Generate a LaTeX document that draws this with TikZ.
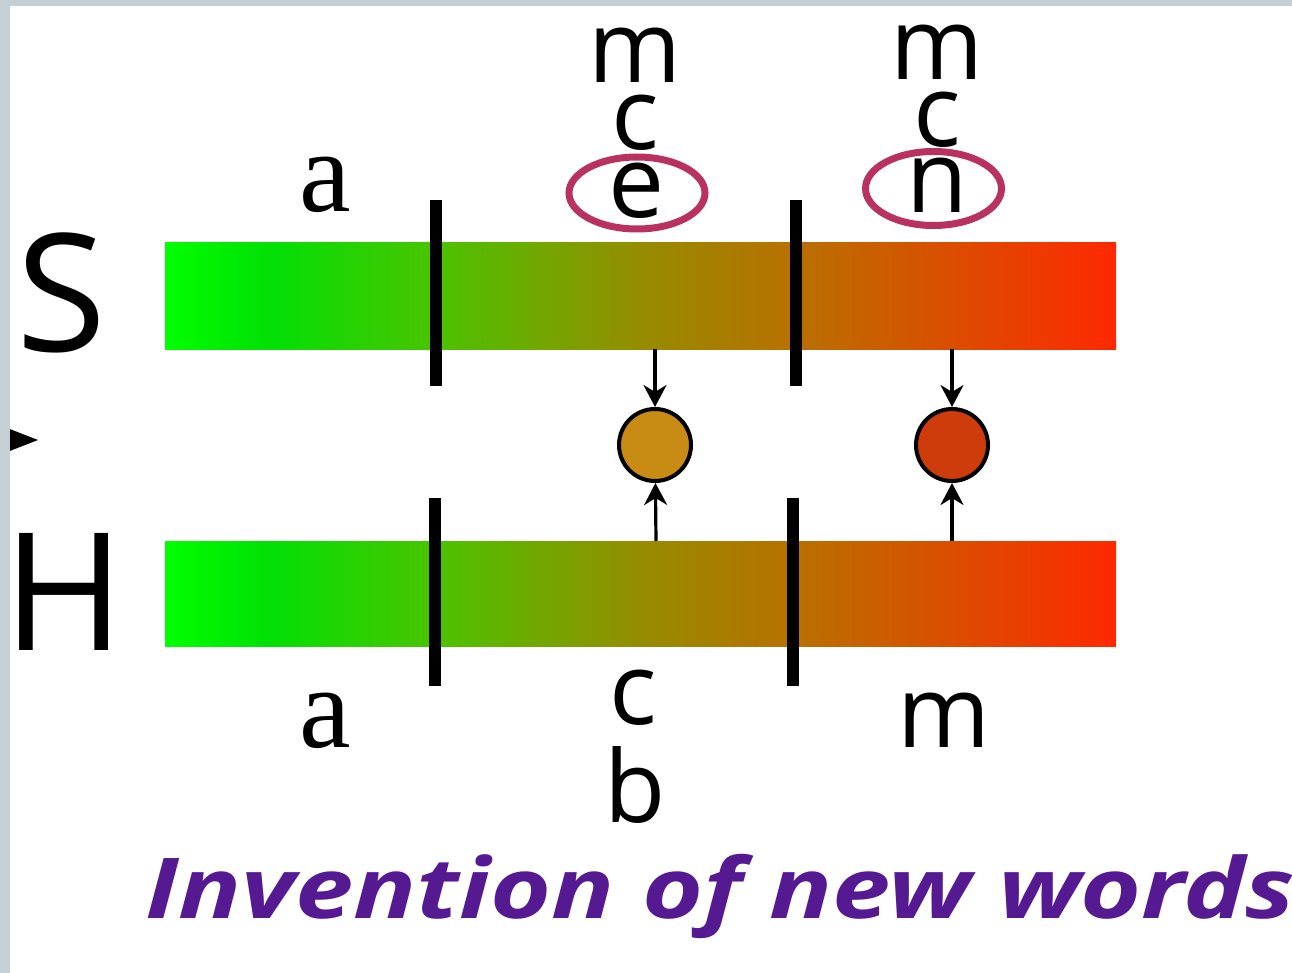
\documentclass[tikz,border=0pt]{standalone}
\usepackage{fontspec}
\usepackage{graphicx}
\setmainfont{Open Sans}
\newfontfamily\serifa{Liberation Serif}
\usetikzlibrary{arrows.meta}
\definecolor{gA}{RGB}{0,255,0}
\definecolor{gB}{RGB}{0,225,5}
\definecolor{gC}{RGB}{75,195,0}
\definecolor{gD}{RGB}{150,140,0}
\definecolor{gE}{RGB}{185,112,0}
\definecolor{gF}{RGB}{255,40,0}
\definecolor{ringcol}{RGB}{185,50,95}
\definecolor{dotA}{RGB}{200,140,20}
\definecolor{dotB}{RGB}{205,60,10}
\definecolor{titlecol}{RGB}{85,25,145}
\definecolor{framecol}{RGB}{197,208,214}
\tikzset{
  lab/.style={inner sep=0pt, anchor=base, font=\fontsize{100}{100}\selectfont},
  sera/.style={inner sep=0pt, anchor=base, font=\fontsize{116}{116}\selectfont\serifa},
  big/.style={inner sep=0pt, anchor=base, font=\fontsize{164}{164}\selectfont},
  sepbar/.style={line width=12pt, black},
  ring/.style={draw=ringcol, line width=7pt},
  dot/.style={circle, draw=black, line width=4pt, minimum size=72pt, inner sep=0pt},
  conn/.style={line width=3.2pt, -{Stealth[length=22pt,width=23pt,inset=7pt]}}
}
\begin{document}
\begin{tikzpicture}[x=1pt,y=-1pt]
\useasboundingbox (0,0) rectangle (1292,973);
\clip (0,0) rectangle (1292,973);
% gradient bars
\foreach \ya/\yb in {243/349, 541/646}{
  \shade[left color=gA, right color=gB] (165,\ya) rectangle (266,\yb);
  \shade[left color=gB, right color=gC] (265,\ya) rectangle (436,\yb);
  \shade[left color=gC, right color=gD] (435,\ya) rectangle (641,\yb);
  \shade[left color=gD, right color=gE] (640,\ya) rectangle (797,\yb);
  \shade[left color=gE, right color=gF] (796,\ya) rectangle (1116,\yb);
}
% separators
\draw[sepbar] (436,200) -- (436,386);
\draw[sepbar] (796,200) -- (796,386);
\draw[sepbar] (435,498) -- (435,686);
\draw[sepbar] (793,498) -- (793,686);
% side letters
\node[big] (S) at (62,352) {S};
\node[big] (H) at (64,650) {H};
\fill[black] (2,426) -- (38,440) -- (2,454) -- cycle;
% top labels
\node[sera] (ta) at (325,212) {a};
\node[lab] (tm1) at (635,83) {m};
\node[lab] (tc1) at (635,150) {c};
\node[lab] (te1) at (637,218) {e};
\node[lab] (tm2) at (937,80) {m};
\node[lab] (tc2) at (937,147) {c};
\node[lab] (tn2) at (937,213) {n};
\draw[ring] (637,193) ellipse [x radius=68, y radius=36];
\draw[ring] (933.5,188.5) ellipse [x radius=68, y radius=37];
% bottom labels
\node[sera] (ba) at (325,747) {a};
\node[lab] (bc) at (633,724) {c};
\node[lab] (bb) at (635,822) {b};
\node[lab] (bm) at (944,747) {m};
% dots and arrows
\node[dot, fill=dotA] (d1) at (655,445) {};
\node[dot, fill=dotB] (d2) at (952,445) {};
\coordinate (t1) at (655,349);
\coordinate (t2) at (952,349);
\coordinate (u1) at (656,541);
\coordinate (u2) at (952,541);
\draw[conn] (t1) -- (d1);
\draw[conn] (t2) -- (d2);
\draw[conn] (u1) -- (d1);
\draw[conn] (u2) -- (d2);
% title
\node[inner sep=0pt, anchor=base west, text=titlecol] (title) at (145,918)
  {\resizebox{1150pt}{\height}{\fontsize{84}{84}\selectfont\bfseries\itshape Invention of new words}};
% frame
\fill[framecol] (0,0) rectangle (10,973);
\fill[framecol] (0,0) rectangle (1292,6);
\end{tikzpicture}
\end{document}
